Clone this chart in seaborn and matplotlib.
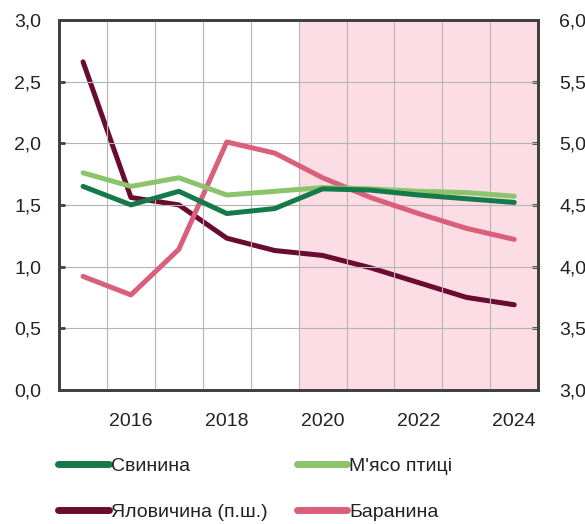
import numpy as np
import pandas as pd
import matplotlib
matplotlib.use('Agg')
import matplotlib.pyplot as plt
import seaborn as sns
from matplotlib.lines import Line2D

# Dados (anos e séries)
years = [2015, 2016, 2017, 2018, 2019, 2020, 2021, 2022, 2023, 2024]
svynyna = [1.65, 1.50, 1.61, 1.43, 1.47, 1.63, 1.62, 1.58, 1.55, 1.52]
ptytsia = [1.76, 1.65, 1.72, 1.58, 1.61, 1.64, 1.63, 1.61, 1.60, 1.57]
baranyna = [0.92, 0.77, 1.14, 2.01, 1.92, 1.72, 1.56, 1.43, 1.31, 1.22]
yalovychyna = [5.66, 4.56, 4.50, 4.23, 4.13, 4.09, 3.99, 3.87, 3.75, 3.69]  # права шкала

labels = ["Свинина", "М'ясо птиці", "Яловичина (п.ш.)", "Баранина"]
colors = ["#16794a", "#8cc46b", "#6a0b30", "#d95f7b"]
left_ticks = [0.0, 0.5, 1.0, 1.5, 2.0, 2.5, 3.0]
right_ticks = [3.0, 3.5, 4.0, 4.5, 5.0, 5.5, 6.0]
year_labels = [2016, 2018, 2020, 2022, 2024]

sns.set_style("white")
plt.rcParams['font.family'] = ['Liberation Sans', 'DejaVu Sans']

df = pd.DataFrame({"year": years * 3,
                   "value": svynyna + ptytsia + baranyna,
                   "series": [labels[0]] * 10 + [labels[1]] * 10 + [labels[3]] * 10})
df_beef = pd.DataFrame({"year": years, "value": yalovychyna})

fig = plt.figure(figsize=(5.85, 5.24), dpi=100)
ax = fig.add_axes([0.101, 0.256, 0.819, 0.706])
ax2 = ax.twinx()
ax.set_zorder(ax2.get_zorder() + 1)
ax.patch.set_visible(False)

# Zona de projeção
ax2.axvspan(2019.5, 2024.5, color="#fcdde6", zorder=0, lw=0)

sns.lineplot(data=df_beef, x="year", y="value", ax=ax2, color=colors[2], lw=3.6,
             solid_capstyle="round", solid_joinstyle="round")
sns.lineplot(data=df, x="year", y="value", hue="series", ax=ax, lw=3.6,
             palette={labels[0]: colors[0], labels[1]: colors[1], labels[3]: colors[3]},
             hue_order=[labels[3], labels[1], labels[0]], legend=False,
             solid_capstyle="round", solid_joinstyle="round")

ax.set_xlim(2014.5, 2024.5)
ax.set_ylim(0, 3)
ax2.set_ylim(3, 6)

ax.set_yticks(left_ticks)
ax.set_yticklabels([f"{t:.1f}".replace(".", ",") for t in left_ticks])
ax2.set_yticks(right_ticks)
ax2.set_yticklabels([f"{t:.1f}".replace(".", ",") for t in right_ticks])

ax.set_xticks(np.arange(2015.5, 2024.0, 1.0))
ax.set_xticklabels([])
ax.set_xticks(year_labels, minor=True)
ax.set_xticklabels([str(y) for y in year_labels], minor=True)

ax.grid(True, which="major", color="#b5b5b5", lw=0.8)
ax.set_axisbelow(True)

ax.tick_params(axis="x", which="major", direction="in", length=4, width=1.5, color="#404040")
ax.tick_params(axis="x", which="minor", length=0, pad=17, labelsize=14, labelcolor="#222222")
ax.tick_params(axis="y", direction="in", length=4, width=2, color="#404040",
               pad=13, labelsize=14, labelcolor="#222222")
ax2.tick_params(axis="y", direction="in", length=4, width=2, color="#404040",
                pad=15, labelsize=14, labelcolor="#222222")

for a in (ax, ax2):
    a.set_xlabel("")
    a.set_ylabel("")
    for s in a.spines.values():
        s.set_color("#404040")
        s.set_linewidth(2)

handles = [Line2D([0], [0], color=c, lw=5, solid_capstyle="round") for c in colors]
order = [0, 2, 1, 3]  # preenchimento por coluna
fig.legend([handles[i] for i in order], [labels[i] for i in order], ncol=2,
           loc="upper left", bbox_to_anchor=(0.07, 0.16), frameon=False,
           fontsize=14, handlelength=2.6, handletextpad=0.1, columnspacing=1.5,
           labelspacing=1.45, labelcolor="#222222")

fig.savefig("out.png", dpi=100)
